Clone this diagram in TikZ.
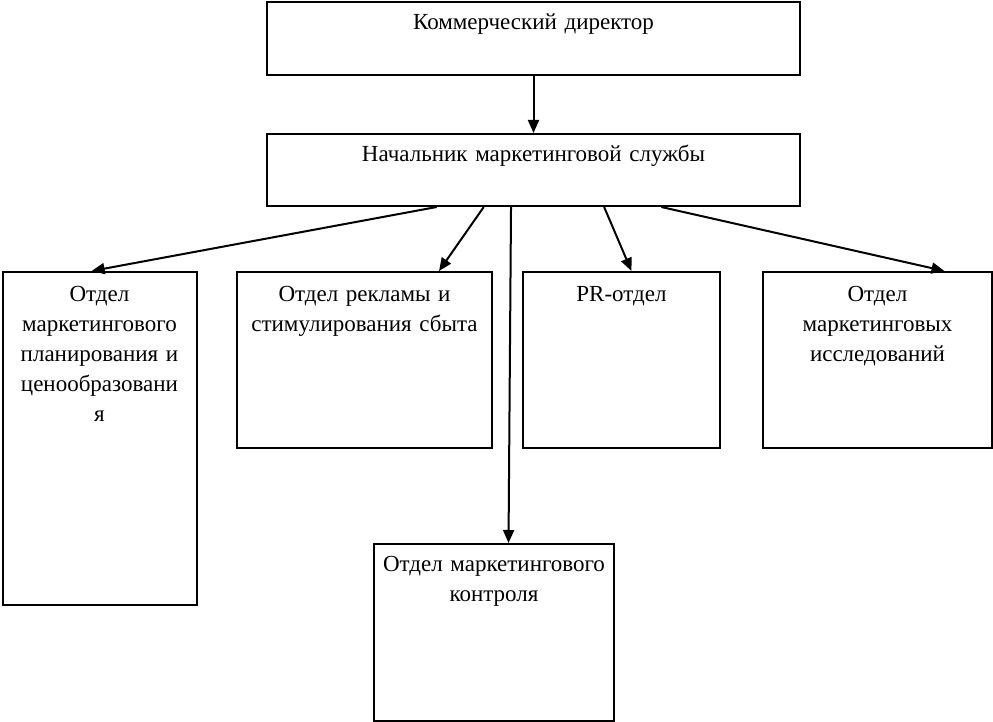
\documentclass[tikz,border=0pt]{standalone}
\usepackage{fontspec}
\setmainfont{Liberation Serif}
\usepackage{tikz}
\usetikzlibrary{arrows.meta,positioning,calc}

\begin{document}
\begin{tikzpicture}[
  x=0.5pt, y=-0.5pt,
  >={Triangle[length=6.5pt,width=5.5pt]},
  font=\fontsize{11.5}{15}\selectfont,
  unitbox/.style 2 args={
    draw=black,
    line width=1pt,
    inner sep=0pt,
    minimum width=#1*0.5pt,
    minimum height=#2*0.5pt,
    anchor=north west
  },
  unittext/.style={
    inner sep=0pt,
    text width=200pt,
    align=center,
    anchor=base
  },
  link/.style={
    ->,
    line width=1pt
  }
]
  \useasboundingbox (0,0) rectangle (993,722);

  % ----------------------------------------------------
  % TOP LEVEL
  % ----------------------------------------------------
  \node[unitbox={533}{73}] (chief) at (266, 1) {};
  \node[unittext] (chief_txt) at ([yshift=-14.5pt]chief.north) {Коммерческий директор};

  \node[unitbox={533}{72}] (head) at (266, 133) {};
  \node[unittext] (head_txt) at ([yshift=-14.5pt]head.north) {Начальник маркетинговой службы};

  % ----------------------------------------------------
  % DEPARTMENTS
  % ----------------------------------------------------
  \node[unitbox={194}{333}] (dep_plan) at (1.5, 271) {};
  \node[unittext] (dep_plan_txt) at ([yshift=-15.5pt]dep_plan.north) {
    Отдел\\ маркетингового\\ планирования и\\ ценообразовани\\ я
  };

  \node[unitbox={255}{176}] (dep_adv) at (236, 271) {};
  \node[unittext] (dep_adv_txt) at ([yshift=-15.5pt]dep_adv.north) {
    Отдел рекламы и\\ стимулирования сбыта
  };

  \node[unitbox={197}{176}] (dep_pr) at (522, 271) {};
  \node[unittext] (dep_pr_txt) at ([yshift=-15.5pt]dep_pr.north) {PR-отдел};

  \node[unitbox={229}{176}] (dep_res) at (762, 271) {};
  \node[unittext] (dep_res_txt) at ([yshift=-15.5pt]dep_res.north) {
    Отдел\\ маркетинговых\\ исследований
  };

  \node[unitbox={240}{177}] (dep_ctrl) at (373, 543) {};
  \node[unittext] (dep_ctrl_txt) at ([yshift=-14.5pt]dep_ctrl.north) {
    Отдел маркетингового\\ контроля
  };

  % Arrows
  \draw[link] (chief.south) -- (head.north);

  \draw[link] ($(head.south west)!0.319!(head.south east)$) -- ($(dep_plan.north west)!0.46!(dep_plan.north east)$);
  \draw[link] ($(head.south west)!0.407!(head.south east)$) -- ($(dep_adv.north west)!0.79!(dep_adv.north east)$);
  \draw[link] ($(head.south west)!0.458!(head.south east)$) -- ($(dep_ctrl.north west)!0.56!(dep_ctrl.north east)$);
  \draw[link] ($(head.south west)!0.632!(head.south east)$) -- ($(dep_pr.north west)!0.55!(dep_pr.north east)$);
  \draw[link] ($(head.south west)!0.739!(head.south east)$) -- ($(dep_res.north west)!0.79!(dep_res.north east)$);

\end{tikzpicture}
\end{document}
